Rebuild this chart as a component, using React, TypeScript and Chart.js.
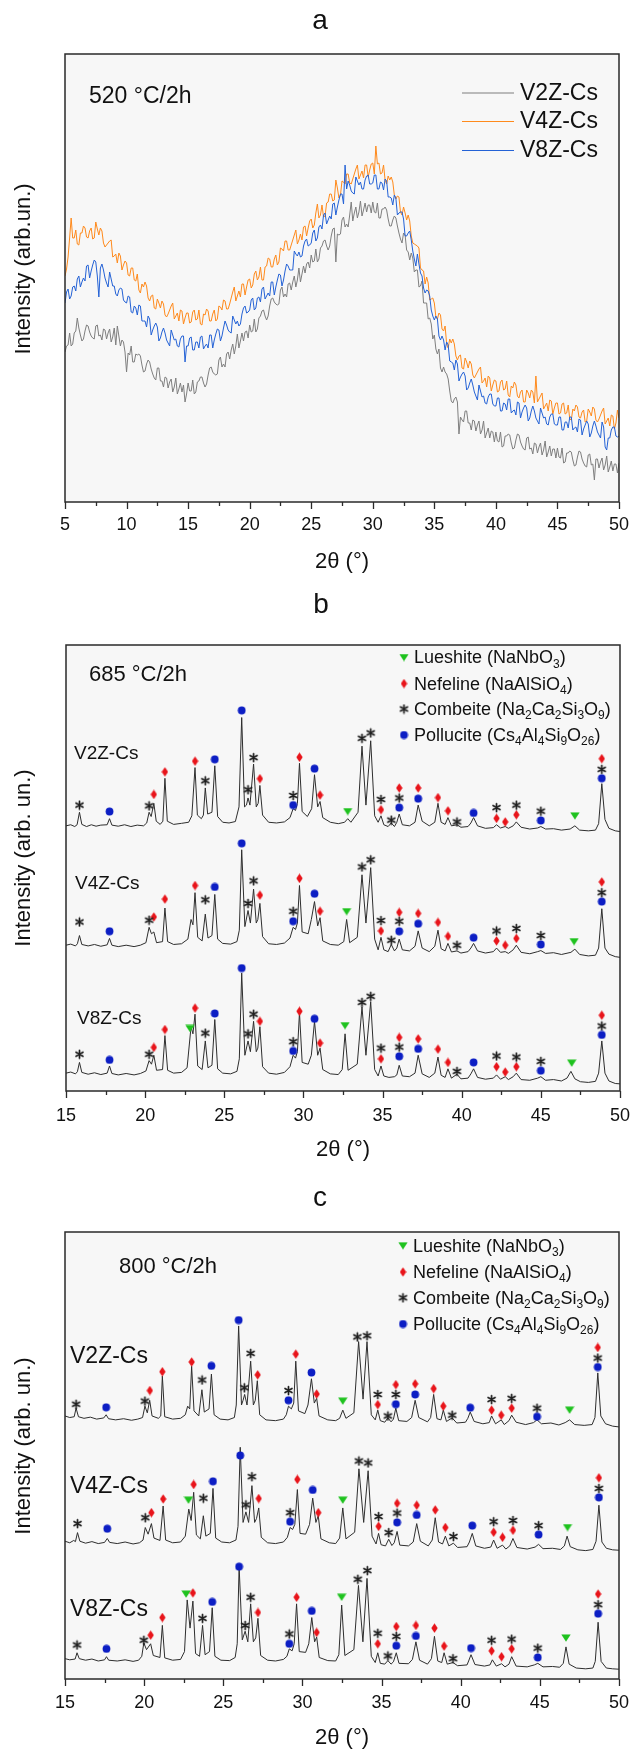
import React, { useEffect, useRef } from 'react';
import { Chart, registerables } from 'chart.js';

Chart.register(...registerables);

const FONT = '"Liberation Sans", Arial, Helvetica, sans-serif';
const INK = '#111111';

// ---------- Panel a: amorphous patterns, 520 °C/2h (sampled every 0.125° from 5° to 50°) ----------
const A_START = 5;
const A_STEP = 0.125;
const a_V2Z = [
  150,156,157,169,156,158,169,171,184,174,167,161,163,171,177,176,170,166,164,163,
  176,177,166,167,162,173,172,163,169,173,160,165,174,157,176,166,156,162,160,150,
  130,149,147,156,140,140,148,147,148,146,137,130,131,138,142,140,133,128,124,122,
  134,134,121,121,115,125,124,114,120,123,110,115,124,108,113,119,110,117,100,108,
  119,111,111,122,108,110,120,121,125,125,119,115,118,127,134,135,130,128,127,128,
  142,145,135,138,135,148,150,143,152,158,148,156,168,154,161,169,161,170,171,164,
  177,170,171,183,170,173,184,186,191,192,186,182,186,196,203,204,200,198,197,198,
  212,215,205,208,205,218,219,212,220,226,215,222,234,220,228,236,229,238,240,234,
  247,240,241,253,240,243,254,256,261,262,256,252,256,266,273,274,240,268,267,268,
  282,285,275,278,275,287,300,281,289,295,284,290,301,286,292,299,290,297,297,289,
  300,290,289,299,284,284,293,293,295,292,283,276,276,282,286,284,276,269,263,259,
  269,267,252,250,242,249,244,230,232,232,215,216,221,199,199,199,183,184,178,163,
  167,153,148,153,134,130,135,130,128,123,111,101,99,103,105,100,68,85,82,80,
  91,91,79,79,72,82,81,71,77,81,68,72,81,64,69,74,64,71,70,60,
  70,61,60,70,55,56,66,66,68,67,59,53,54,62,68,67,60,56,53,52,
  64,65,53,54,48,59,58,49,55,59,47,52,61,45,50,56,46,53,53,44,
  54,45,44,54,39,40,49,49,51,50,42,36,37,45,51,50,43,39,36,35,
  47,48,37,38,22,43,43,34,40,44,32,37,46,30,35,41,31,38,38,29,
  39,
];
const a_V4Z = [
  226,233,245,264,284,264,264,272,258,257,269,269,276,274,265,264,271,274,263,264,
  280,273,267,274,271,259,255,257,259,261,262,245,246,248,239,249,246,232,237,241,
  239,227,226,234,234,222,221,228,212,209,218,215,220,216,204,201,206,207,194,193,
  203,199,194,201,198,187,185,188,192,196,199,183,186,189,181,192,191,178,184,189,
  189,179,180,190,192,182,183,192,178,177,188,187,193,191,181,181,188,192,181,183,
  196,195,192,202,201,193,193,198,204,210,215,201,206,211,205,218,218,207,215,222,
  223,214,217,228,231,222,225,235,222,222,235,236,244,243,235,235,243,247,237,240,
  254,253,251,261,261,252,252,257,262,267,272,258,262,268,262,275,276,266,274,281,
  283,274,277,289,298,284,287,297,285,286,299,300,308,308,301,302,322,314,304,307,
  321,320,318,328,328,319,318,323,328,333,337,323,327,331,324,337,337,325,332,338,
  339,328,356,338,339,328,329,337,322,318,326,322,325,320,307,303,306,305,290,287,
  295,289,282,287,281,266,259,258,257,256,254,234,232,231,218,225,219,202,203,204,
  199,185,183,189,187,173,171,176,158,154,163,159,163,158,146,142,146,147,134,133,
  144,140,134,141,138,127,124,127,130,133,135,119,121,124,115,126,124,111,117,122,
  121,110,111,120,122,112,113,121,107,105,116,114,120,117,106,104,110,112,100,100,
  112,109,104,112,110,99,126,100,103,106,109,93,96,99,91,102,101,88,94,99,
  99,88,89,98,99,88,89,97,83,82,93,91,97,95,85,84,90,92,80,81,
  93,90,86,95,93,82,80,83,87,91,94,78,81,84,76,87,86,73,79,92,
  84,
];
const a_V8Z = [
  199,210,213,203,206,215,216,211,223,226,215,220,224,221,236,237,224,231,237,242,
  240,226,205,234,238,232,224,219,215,230,223,216,216,208,206,212,214,213,202,200,
  199,206,205,190,189,196,194,187,197,196,181,181,181,175,186,183,167,172,176,179,
  175,161,164,170,174,169,162,159,156,172,167,162,163,156,155,163,166,166,140,156,
  156,164,165,152,152,160,160,154,165,166,153,156,158,154,167,167,154,162,168,173,
  172,161,166,174,181,177,172,170,169,186,182,178,181,176,178,188,194,196,189,190,
  192,202,204,192,194,204,205,200,213,215,203,206,209,206,220,220,207,215,222,228,
  227,216,222,231,238,236,232,232,232,251,248,246,250,245,246,256,261,263,256,257,
  259,269,272,261,264,275,277,273,287,289,278,282,286,283,298,299,287,295,302,308,
  308,298,337,313,321,317,311,309,308,325,321,317,320,313,313,322,326,327,318,318,
  319,327,327,313,313,320,319,312,323,321,305,305,304,297,307,304,287,289,290,290,
  283,266,266,269,271,262,251,243,236,248,238,229,226,214,209,212,211,206,192,186,
  182,186,183,166,162,166,162,152,160,157,141,140,139,132,142,138,121,125,128,130,
  126,112,114,119,123,117,110,106,102,117,111,105,106,99,98,105,108,108,98,96,
  96,104,104,91,91,99,98,92,103,103,89,91,92,87,100,99,84,90,94,97,
  94,81,84,91,96,91,84,81,78,94,89,84,85,78,77,85,88,88,78,77,
  77,85,85,72,72,80,80,74,85,85,72,74,75,70,83,82,67,73,77,81,
  78,65,69,76,81,76,70,67,64,80,75,55,52,64,64,72,75,75,66,65,
  66,
];
const A_TICKS = { min: 5, max: 50 };

// ---------- Panel b: crystalline patterns, 685 °C/2h ([2θ, intensity]) ----------
const b_V2Z = [
  [15,742],[15.3,745],[15.55,740],[15.7,745],[15.85,780],[16.0,746],[16.3,740],[16.6,745],[16.9,741],[17.2,744],[17.6,745],[17.75,762],[17.9,744],[18.3,741],[18.7,745],[19.1,740],[19.5,744],[19.9,742],[20.1,750],[20.25,780],[20.38,768],[20.55,805],[20.7,755],[20.95,746],[21.12,755],[21.25,875],[21.4,755],[21.8,746],[22.3,749],[22.75,752],[22.95,770],[23.15,905],[23.3,772],[23.55,762],[23.68,772],[23.8,848],[23.95,775],[24.22,780],[24.4,910],[24.58,768],[24.9,752],[25.3,750],[25.7,754],[25.93,795],[26.1,1045],[26.28,795],[26.4,800],[26.5,820],[26.62,800],[26.85,915],[27.02,795],[27.14,805],[27.25,855],[27.42,772],[27.8,752],[28.3,750],[28.8,753],[29.15,765],[29.35,790],[29.5,785],[29.62,805],[29.75,917],[29.92,782],[30.25,768],[30.52,790],[30.7,885],[30.9,795],[31.05,810],[31.22,765],[31.7,752],[32.2,748],[32.6,752],[32.8,762],[33.0,752],[33.45,780],[33.7,965],[33.95,800],[34.25,980],[34.5,770],[34.72,752],[34.9,770],[35.08,745],[35.35,740],[35.55,750],[35.75,740],[35.9,752],[36.05,775],[36.25,745],[36.7,742],[37.05,752],[37.25,800],[37.5,755],[37.95,742],[38.3,752],[38.5,805],[38.7,752],[38.95,746],[39.13,765],[39.35,742],[39.7,745],[39.95,738],[40.4,740],[40.58,750],[40.75,765],[41.0,742],[41.5,735],[42.0,737],[42.2,745],[42.45,736],[42.75,740],[42.95,735],[43.25,742],[43.45,753],[43.75,738],[44.3,733],[44.8,736],[45.0,740],[45.3,733],[45.8,734],[46.3,730],[46.85,733],[47.15,742],[47.45,730],[48.0,728],[48.45,730],[48.65,748],[48.85,860],[49.05,760],[49.3,735],[49.7,728],[50,726],
];
const b_V4Z = [
  [15,408],[15.3,411],[15.6,406],[15.72,412],[15.85,435],[16.0,410],[16.4,406],[16.8,410],[17.2,405],[17.6,409],[17.75,427],[17.9,408],[18.3,404],[18.8,408],[19.3,404],[19.7,408],[20.05,415],[20.25,458],[20.4,440],[20.55,445],[20.72,415],[21.1,418],[21.25,512],[21.42,418],[21.8,410],[22.3,412],[22.7,425],[22.9,480],[23.02,465],[23.15,555],[23.32,430],[23.6,420],[23.8,495],[23.97,428],[24.22,435],[24.4,550],[24.58,425],[24.9,413],[25.4,411],[25.8,418],[25.95,450],[26.1,675],[26.3,460],[26.5,505],[26.65,470],[26.85,565],[27.02,470],[27.12,480],[27.25,525],[27.42,432],[27.8,412],[28.3,410],[28.8,414],[29.15,428],[29.35,458],[29.5,452],[29.62,470],[29.75,575],[29.92,445],[30.3,440],[30.5,480],[30.7,530],[30.9,462],[31.05,485],[31.22,420],[31.7,410],[32.2,408],[32.55,418],[32.73,480],[32.92,415],[33.4,430],[33.7,605],[33.95,470],[34.25,625],[34.5,425],[34.72,395],[34.9,430],[35.08,395],[35.35,390],[35.55,410],[35.75,392],[35.9,400],[36.05,425],[36.25,395],[36.7,392],[37.05,405],[37.25,448],[37.5,400],[37.95,390],[38.3,405],[38.5,450],[38.7,398],[38.95,392],[39.13,413],[39.35,389],[39.7,392],[39.95,386],[40.4,390],[40.58,400],[40.75,413],[41.0,392],[41.5,386],[42.0,390],[42.2,400],[42.45,388],[42.75,390],[42.95,385],[43.25,395],[43.45,408],[43.75,388],[44.3,384],[44.8,390],[45.0,393],[45.3,385],[45.8,387],[46.3,382],[46.9,388],[47.15,397],[47.45,382],[48.0,378],[48.45,380],[48.65,400],[48.85,510],[49.05,400],[49.3,383],[49.7,376],[50,374],
];
const b_V8Z = [
  [15,50],[15.3,53],[15.6,48],[15.72,54],[15.85,80],[16.0,52],[16.4,47],[16.8,51],[17.2,46],[17.6,50],[17.75,70],[17.9,49],[18.3,45],[18.8,49],[19.3,45],[19.7,49],[20.05,56],[20.25,85],[20.4,75],[20.55,100],[20.72,58],[21.1,60],[21.25,155],[21.42,58],[21.8,50],[22.3,52],[22.65,65],[22.9,180],[23.02,160],[23.15,215],[23.32,70],[23.6,60],[23.8,140],[23.97,65],[24.22,72],[24.4,200],[24.58,62],[24.9,50],[25.4,48],[25.8,55],[25.95,90],[26.1,330],[26.3,100],[26.5,140],[26.65,110],[26.85,195],[27.02,110],[27.12,120],[27.25,180],[27.42,68],[27.8,50],[28.3,47],[28.8,52],[29.15,68],[29.35,100],[29.5,92],[29.62,110],[29.75,220],[29.92,80],[30.3,75],[30.5,100],[30.7,195],[30.9,100],[31.05,120],[31.22,60],[31.7,48],[32.2,46],[32.45,60],[32.63,160],[32.82,58],[33.4,75],[33.7,235],[33.95,100],[34.25,250],[34.5,60],[34.72,42],[34.9,70],[35.08,42],[35.4,38],[35.75,40],[35.9,45],[36.05,72],[36.25,42],[36.7,40],[37.05,50],[37.25,100],[37.5,48],[37.95,38],[38.3,50],[38.5,95],[38.7,44],[38.95,38],[39.13,62],[39.35,36],[39.7,47],[39.95,34],[40.4,36],[40.58,48],[40.75,62],[41.0,38],[41.5,33],[42.0,36],[42.2,45],[42.45,33],[42.75,40],[42.95,32],[43.25,40],[43.45,50],[43.75,32],[44.3,30],[44.8,36],[45.0,40],[45.3,30],[45.8,32],[46.3,28],[46.65,36],[46.9,55],[47.15,34],[47.5,26],[48.0,24],[48.45,27],[48.65,50],[48.85,140],[49.05,50],[49.3,28],[49.7,21],[50,20],
];
// phase markers for panel b
const b_lueshite = [[32.8,782],[47.15,770],[32.73,502],[47.1,418],[22.83,175],[32.63,183],[46.95,78]];
const b_nefeline = [
  [20.55,830],[21.25,893],[23.15,923],[27.25,874],[29.75,934],[31.05,828],[34.9,787],[36.05,848],[37.25,848],[38.5,821],[39.13,784],[42.2,763],[42.75,753],[43.45,773],[48.85,930],
  [20.55,487],[21.25,537],[23.15,575],[27.25,548],[29.75,595],[31.05,503],[34.9,448],[36.05,500],[37.25,497],[38.5,472],[39.13,433],[42.2,420],[42.75,408],[43.45,427],[48.85,585],
  [20.55,122],[21.25,172],[23.15,232],[27.25,195],[29.75,223],[31.05,134],[34.9,90],[36.05,150],[37.25,146],[38.5,117],[39.13,80],[42.2,68],[42.75,53],[43.45,68],[48.85,212],
];
const b_combeite = [
  [15.85,800],[20.25,798],[23.8,868],[26.5,843],[26.85,933],[29.35,827],[33.7,987],[34.25,1002],[34.9,816],[35.55,758],[36.05,820],[39.7,753],[42.2,793],[43.45,800],[45.0,783],[48.85,900],
  [15.85,473],[20.25,478],[23.8,535],[26.5,525],[26.85,588],[29.35,503],[33.7,627],[34.25,647],[34.9,477],[35.55,422],[36.05,475],[39.7,408],[42.2,448],[43.45,455],[45.0,435],[48.85,555],
  [15.85,103],[20.25,103],[23.8,162],[26.5,160],[26.85,215],[29.35,138],[33.7,248],[34.25,265],[34.9,120],[36.05,123],[39.7,55],[42.2,98],[43.45,95],[45.0,83],[48.85,182],
];
const b_pollucite = [
  [17.75,782],[24.4,928],[26.1,1065],[29.35,800],[30.7,902],[36.05,793],[37.25,818],[40.75,778],[45.0,757],[48.85,875],
  [17.75,447],[24.4,571],[26.1,693],[29.35,475],[30.7,552],[36.05,447],[37.25,468],[40.75,429],[45.0,410],[48.85,530],
  [17.75,87],[24.4,217],[26.1,344],[29.35,112],[30.7,202],[36.05,97],[37.25,118],[40.75,80],[45.0,57],[48.85,157],
];

// ---------- Panel c: crystalline patterns, 800 °C/2h ----------
const c_V2Z = [
  [15,672],[15.3,668],[15.58,670],[15.7,692],[15.85,670],[16.2,666],[16.6,669],[17.0,664],[17.45,667],[17.6,675],[17.75,665],[18.2,662],[18.7,665],[19.2,661],[19.6,664],[19.9,668],[20.05,697],[20.2,680],[20.35,712],[20.5,672],[20.9,666],[21.05,672],[21.15,774],[21.3,670],[21.8,664],[22.3,666],[22.6,675],[22.75,697],[22.88,690],[23.0,799],[23.15,685],[23.45,672],[23.65,739],[23.8,682],[24.1,690],[24.25,779],[24.42,675],[24.8,664],[25.3,662],[25.7,668],[25.82,700],[25.97,902],[26.15,700],[26.25,712],[26.35,727],[26.5,700],[26.73,812],[26.9,700],[27.02,712],[27.15,762],[27.3,675],[27.7,662],[28.3,660],[28.8,664],[28.98,675],[29.12,697],[29.3,690],[29.45,705],[29.58,812],[29.75,685],[30.15,678],[30.35,700],[30.57,767],[30.75,705],[30.9,717],[31.05,672],[31.6,662],[32.1,660],[32.35,666],[32.55,687],[32.75,666],[33.25,680],[33.55,862],[33.83,715],[34.08,862],[34.35,675],[34.6,662],[34.76,687],[34.92,660],[35.2,656],[35.4,667],[35.6,657],[35.75,664],[35.9,692],[36.08,660],[36.6,658],[36.9,668],[37.12,712],[37.35,668],[37.9,657],[38.1,668],[38.29,727],[38.5,665],[38.75,662],[38.9,687],[39.1,658],[39.46,667],[39.75,654],[40.3,656],[40.45,666],[40.6,682],[40.85,658],[41.4,652],[41.8,655],[41.95,672],[42.2,652],[42.56,662],[42.75,650],[43.05,660],[43.22,674],[43.5,656],[44.1,650],[44.6,655],[44.82,662],[45.1,652],[45.7,654],[46.2,649],[46.6,655],[46.88,662],[47.2,650],[47.8,648],[48.3,650],[48.48,668],[48.66,782],[48.85,672],[49.15,652],[49.6,646],[50,644],
];
const c_V4Z = [
  [15,352],[15.3,348],[15.55,354],[15.66,351],[15.79,374],[15.94,352],[16.3,347],[16.7,351],[17.1,346],[17.5,349],[17.67,359],[17.82,349],[18.3,346],[18.8,350],[19.3,345],[19.7,348],[19.93,355],[20.07,387],[20.25,370],[20.46,397],[20.62,360],[21.0,354],[21.2,442],[21.36,355],[21.8,348],[22.3,350],[22.6,365],[22.82,434],[22.97,405],[23.13,477],[23.3,368],[23.55,358],[23.74,417],[23.9,365],[24.18,372],[24.35,487],[24.52,360],[24.9,350],[25.4,348],[25.8,355],[25.93,390],[26.07,592],[26.25,400],[26.43,427],[26.6,400],[26.81,494],[26.98,400],[27.1,410],[27.24,437],[27.4,362],[27.8,348],[28.3,346],[28.8,350],[29.05,362],[29.22,387],[29.38,382],[29.52,395],[29.68,484],[29.85,372],[30.2,370],[30.45,395],[30.65,462],[30.85,400],[31.0,417],[31.17,358],[31.7,348],[32.1,346],[32.35,360],[32.55,437],[32.75,358],[33.3,375],[33.57,537],[33.87,400],[34.15,532],[34.4,365],[34.65,345],[34.81,372],[34.97,343],[35.25,340],[35.45,357],[35.65,341],[35.8,348],[35.98,377],[36.15,342],[36.7,340],[37.0,350],[37.22,397],[37.45,352],[37.95,340],[38.2,355],[38.39,412],[38.6,350],[38.85,345],[39.03,365],[39.25,340],[39.54,347],[39.8,336],[40.4,338],[40.55,350],[40.73,372],[40.95,340],[41.5,334],[41.9,337],[42.08,355],[42.3,334],[42.64,342],[42.85,332],[43.1,340],[43.3,359],[43.55,336],[44.2,332],[44.7,337],[44.92,344],[45.2,333],[45.8,334],[46.3,331],[46.55,340],[46.72,365],[46.92,338],[47.4,330],[47.9,328],[48.35,331],[48.55,352],[48.73,444],[48.92,350],[49.2,334],[49.6,330],[50,329],
];
const c_V8Z = [
  [15,52],[15.3,49],[15.64,51],[15.76,67],[15.9,52],[16.3,48],[16.7,51],[17.1,46],[17.5,49],[17.62,57],[17.76,48],[18.3,46],[18.8,49],[19.3,45],[19.65,48],[19.85,58],[19.98,92],[20.15,75],[20.41,90],[20.58,60],[21.0,55],[21.15,137],[21.3,54],[21.8,48],[22.3,50],[22.55,70],[22.72,202],[22.9,130],[23.08,199],[23.25,65],[23.5,58],[23.69,137],[23.85,62],[24.13,70],[24.3,182],[24.47,58],[24.85,48],[25.4,47],[25.75,55],[25.88,90],[26.0,287],[26.2,100],[26.38,122],[26.55,95],[26.73,192],[26.9,95],[27.05,105],[27.19,155],[27.36,60],[27.8,48],[28.3,46],[28.8,50],[29.02,58],[29.17,77],[29.35,72],[29.48,90],[29.63,192],[29.8,70],[30.2,68],[30.4,90],[30.59,157],[30.77,95],[30.9,107],[31.06,55],[31.6,47],[32.1,46],[32.3,62],[32.48,189],[32.68,60],[33.25,75],[33.54,239],[33.82,95],[34.08,257],[34.35,58],[34.6,42],[34.76,67],[34.92,40],[35.2,38],[35.4,47],[35.6,38],[35.75,44],[35.93,67],[36.1,40],[36.7,39],[36.95,50],[37.17,95],[37.4,48],[37.9,38],[38.15,52],[38.34,109],[38.55,46],[38.8,42],[38.95,67],[39.15,38],[39.51,42],[39.8,34],[40.4,36],[40.5,46],[40.65,62],[40.9,37],[41.5,33],[41.85,36],[42.0,49],[42.25,33],[42.58,39],[42.8,31],[43.05,38],[43.22,57],[43.5,33],[44.2,31],[44.65,36],[44.87,40],[45.2,31],[45.8,32],[46.25,30],[46.48,40],[46.65,82],[46.85,38],[47.3,28],[47.9,26],[48.35,28],[48.5,45],[48.68,145],[48.87,45],[49.2,28],[49.6,26],[50,25],
];
// phase markers for panel c
const c_lueshite = [[32.55,710],[46.88,687],[22.8,457],[32.55,457],[46.75,387],[22.65,217],[32.48,209],[46.65,105]];
const c_nefeline = [
  [20.36,737],[21.15,785],[23.0,810],[27.17,777],[29.58,830],[30.9,728],[34.76,701],[35.9,752],[37.12,754],[38.29,742],[38.9,697],[41.95,687],[42.56,674],[43.22,692],[48.66,847],
  [20.46,425],[21.2,460],[23.13,497],[27.24,461],[29.68,510],[31.0,425],[34.81,390],[35.98,449],[37.22,444],[38.39,432],[39.03,387],[42.08,375],[42.64,362],[43.3,380],[48.73,514],
  [20.41,112],[21.15,157],[23.08,220],[27.19,170],[29.63,209],[30.9,119],[34.76,90],[35.93,134],[37.17,137],[38.34,130],[38.95,84],[41.95,72],[42.58,57],[43.22,77],[48.68,217],
];
const c_combeite = [
  [15.7,702],[20.05,710],[23.66,764],[26.33,744],[26.73,832],[29.12,737],[33.47,874],[34.08,877],[34.76,727],[35.4,672],[35.9,727],[39.46,674],[41.95,714],[43.22,717],[44.82,692],[48.66,820],
  [15.79,397],[20.07,412],[23.74,462],[26.43,445],[26.81,517],[29.22,425],[33.57,557],[34.15,552],[34.81,415],[35.45,374],[35.98,424],[39.54,364],[42.08,402],[43.3,405],[44.92,392],[48.73,487],
  [15.76,87],[19.98,99],[23.69,155],[26.38,137],[26.73,209],[29.17,115],[33.5,255],[34.1,277],[34.76,117],[35.4,59],[35.93,109],[39.51,52],[41.95,99],[43.22,102],[44.87,79],[48.68,190],
];
const c_pollucite = [
  [17.6,694],[24.25,800],[25.97,917],[29.12,712],[30.57,783],[35.9,702],[37.12,727],[40.6,693],[44.82,670],[48.66,797],
  [17.67,384],[24.35,505],[26.07,571],[29.22,402],[30.65,483],[35.98,400],[37.22,419],[40.73,392],[44.92,369],[48.73,464],
  [17.62,77],[24.3,197],[26.0,287],[29.17,90],[30.59,174],[35.93,85],[37.17,110],[40.65,79],[44.87,55],[48.68,167],
];

const SAMPLES = ['V2Z-Cs', 'V4Z-Cs', 'V8Z-Cs'];
const A_COLORS = ['#7f7f7f', '#ff8a1c', '#2462d6'];
const PHASES = [
  { key: 'lueshite', text: 'Lueshite (NaNbO_3)' },
  { key: 'nefeline', text: 'Nefeline (NaAlSiO_4)' },
  { key: 'combeite', text: 'Combeite (Na_2Ca_2Si_3O_9)' },
  { key: 'pollucite', text: 'Pollucite (Cs_4Al_4Si_9O_26)' },
];

// ---------- marker glyphs ----------
function makeGlyph(kind: string): HTMLCanvasElement {
  const c = document.createElement('canvas');
  if (kind === 'lueshite') {
    c.width = 10; c.height = 8;
    const g = c.getContext('2d')!;
    g.fillStyle = '#1ec21e';
    g.beginPath(); g.moveTo(0.3, 0.5); g.lineTo(9.7, 0.5); g.lineTo(5, 7.8); g.closePath(); g.fill();
  } else if (kind === 'nefeline') {
    c.width = 7; c.height = 10;
    const g = c.getContext('2d')!;
    g.fillStyle = '#e8141a';
    g.beginPath(); g.moveTo(3.5, 0.3); g.lineTo(6.7, 5); g.lineTo(3.5, 9.7); g.lineTo(0.3, 5); g.closePath(); g.fill();
  } else if (kind === 'combeite') {
    c.width = 11; c.height = 11;
    const g = c.getContext('2d')!;
    g.strokeStyle = '#1c1c1c'; g.lineWidth = 1.7; g.lineCap = 'round';
    g.beginPath();
    for (const deg of [90, 30, 150]) {
      const r = (deg * Math.PI) / 180;
      const dx = Math.cos(r) * 4, dy = Math.sin(r) * 4;
      g.moveTo(5.5 - dx, 5.5 - dy); g.lineTo(5.5 + dx, 5.5 + dy);
    }
    g.stroke();
  } else {
    c.width = 9; c.height = 9;
    const g = c.getContext('2d')!;
    g.fillStyle = '#0c1ec4';
    g.beginPath(); g.arc(4.5, 4.5, 3.9, 0, Math.PI * 2); g.fill();
  }
  return c;
}

function drawRich(ctx: CanvasRenderingContext2D, text: string, x: number, y: number, size: number) {
  const parts = text.split(/(_\d+)/);
  let cx = x;
  ctx.textAlign = 'left';
  ctx.textBaseline = 'middle';
  for (const p of parts) {
    if (!p) continue;
    if (p.startsWith('_')) {
      const s = p.slice(1);
      ctx.font = `${Math.round(size * 0.66)}px ${FONT}`;
      ctx.fillText(s, cx, y + size * 0.32);
      cx += ctx.measureText(s).width;
    } else {
      ctx.font = `${size}px ${FONT}`;
      ctx.fillText(p, cx, y);
      cx += ctx.measureText(p).width;
    }
  }
}

type Deco = {
  letter: string; letterY: number;
  note: string; noteX: number; noteY: number; noteSize: number;
  xTitleY: number; yTitle: string; yTitleY: number;
  lineLegend?: { x0: number; x1: number; tx: number; ys: number[] };
  phaseLegend?: { mx: number; tx: number; ys: number[]; glyphs: Record<string, HTMLCanvasElement> };
  sampleLabels?: { x: number; y: number }[]; sampleSize?: number;
};

function decoPlugin(d: Deco) {
  return {
    id: 'panelDeco',
    beforeDraw(chart: any) {
      const { ctx, chartArea: a } = chart;
      ctx.save();
      ctx.fillStyle = '#f7f7f7';
      ctx.fillRect(a.left, a.top, a.right - a.left, a.bottom - a.top);
      ctx.restore();
    },
    afterDraw(chart: any) {
      const { ctx, chartArea: a } = chart;
      const xs = chart.scales.x;
      ctx.save();
      // frame
      ctx.strokeStyle = '#2a2a2a';
      ctx.lineWidth = 1.5;
      ctx.strokeRect(a.left, a.top, a.right - a.left, a.bottom - a.top);
      // bottom ticks, major every 5°, minor halfway
      ctx.lineWidth = 1.3;
      ctx.beginPath();
      for (let v = xs.min; v <= xs.max + 1e-6; v += 2.5) {
        const px = Math.round(xs.getPixelForValue(v)) + 0.5;
        const major = Math.abs(v / 5 - Math.round(v / 5)) < 1e-6;
        ctx.moveTo(px, a.bottom);
        ctx.lineTo(px, a.bottom + (major ? 7 : 4));
      }
      ctx.stroke();

      ctx.fillStyle = INK;
      ctx.textBaseline = 'middle';
      // panel letter
      ctx.textAlign = 'center';
      ctx.font = `28px ${FONT}`;
      ctx.fillText(d.letter, (a.left + a.right) / 2 - 22, d.letterY);
      // axis titles
      ctx.font = `22px ${FONT}`;
      ctx.fillText('2θ (°)', (a.left + a.right) / 2, d.xTitleY);
      ctx.save();
      ctx.translate(24, d.yTitleY);
      ctx.rotate(-Math.PI / 2);
      ctx.fillText(d.yTitle, 0, 0);
      ctx.restore();
      // temperature note
      ctx.textAlign = 'left';
      ctx.font = `${d.noteSize}px ${FONT}`;
      ctx.fillText(d.note, d.noteX, d.noteY);

      if (d.lineLegend) {
        const L = d.lineLegend;
        ctx.font = `23px ${FONT}`;
        SAMPLES.forEach((s, i) => {
          ctx.strokeStyle = A_COLORS[i];
          ctx.lineWidth = 1.2;
          ctx.beginPath();
          ctx.moveTo(L.x0, L.ys[i] + 0.5); ctx.lineTo(L.x1, L.ys[i] + 0.5);
          ctx.stroke();
          ctx.fillStyle = INK;
          ctx.fillText(s, L.tx, L.ys[i] + 1);
        });
      }
      if (d.phaseLegend) {
        const P = d.phaseLegend;
        PHASES.forEach((p, i) => {
          const g = P.glyphs[p.key];
          ctx.drawImage(g, P.mx - g.width / 2, P.ys[i] - g.height / 2);
          ctx.fillStyle = INK;
          drawRich(ctx, p.text, P.tx, P.ys[i] + 1, 18);
        });
      }
      if (d.sampleLabels) {
        ctx.fillStyle = INK;
        ctx.textAlign = 'left';
        ctx.font = `${d.sampleSize}px ${FONT}`;
        d.sampleLabels.forEach((l, i) => ctx.fillText(SAMPLES[i], l.x, l.y));
      }
      ctx.restore();
    },
  };
}

function baseOptions(o: { xMin: number; xMax: number; yMax: number; padTop: number; padLeft: number; padRight: number; axisH: number; tickPad: number }) {
  return {
    animation: false,
    responsive: false,
    maintainAspectRatio: false,
    devicePixelRatio: 1,
    events: [],
    layout: { padding: { left: o.padLeft, right: o.padRight, top: o.padTop, bottom: 0 } },
    plugins: { legend: { display: false }, tooltip: { enabled: false }, title: { display: false } },
    elements: { point: { radius: 0 }, line: { tension: 0 } },
    scales: {
      x: {
        type: 'linear',
        min: o.xMin,
        max: o.xMax,
        grid: { display: false, drawTicks: false },
        border: { display: false },
        ticks: { stepSize: 5, autoSkip: false, maxRotation: 0, padding: o.tickPad, color: INK, font: { family: FONT, size: 18 } },
        afterFit: (s: any) => { s.height = o.axisH; s.paddingLeft = 0; s.paddingRight = 0; },
      },
      y: { type: 'linear', display: false, min: 0, max: o.yMax },
    },
  };
}

function patternDatasets(lines: number[][][], marks: Record<string, number[][]>, glyphs: Record<string, HTMLCanvasElement>) {
  const markerSets = ['pollucite', 'combeite', 'nefeline', 'lueshite'].map((k) => ({
    label: k,
    data: marks[k],
    showLine: false,
    pointStyle: glyphs[k],
    pointRadius: 4,
    pointHoverRadius: 4,
    borderWidth: 0,
  }));
  const lineSets = lines.map((d, i) => ({
    label: SAMPLES[i],
    data: d,
    borderColor: '#2e2e2e',
    borderWidth: 1,
    pointRadius: 0,
    fill: false,
  }));
  return [...markerSets, ...lineSets];
}

export default function App() {
  const refA = useRef<HTMLCanvasElement>(null);
  const refB = useRef<HTMLCanvasElement>(null);
  const refC = useRef<HTMLCanvasElement>(null);

  useEffect(() => {
    const glyphs: Record<string, HTMLCanvasElement> = {
      lueshite: makeGlyph('lueshite'),
      nefeline: makeGlyph('nefeline'),
      combeite: makeGlyph('combeite'),
      pollucite: makeGlyph('pollucite'),
    };
    const angle = (i: number) => A_START + i * A_STEP;
    const aSeries = [a_V2Z, a_V4Z, a_V8Z];
    const aSets = aSeries
      .map((s, k) => ({
        label: SAMPLES[k],
        data: s.map((y, i) => ({ x: angle(i), y })),
        borderColor: A_COLORS[k],
        borderWidth: 1,
        pointRadius: 0,
        fill: false,
      }))
      .reverse();

    const chartA = new Chart(refA.current!, {
      type: 'line',
      data: { datasets: aSets as any },
      options: baseOptions({ xMin: A_TICKS.min, xMax: A_TICKS.max, yMax: 448, padTop: 54, padLeft: 65, padRight: 11, axisH: 78, tickPad: 12 }) as any,
      plugins: [decoPlugin({
        letter: 'a', letterY: 21,
        note: '520 °C/2h', noteX: 89, noteY: 97, noteSize: 23,
        xTitleY: 562, yTitle: 'Intensity (arb.un.)', yTitleY: 269,
        lineLegend: { x0: 462, x1: 514, tx: 520, ys: [92.5, 121, 150] },
      })],
    });

    const chartB = new Chart(refB.current!, {
      type: 'line',
      data: {
        datasets: patternDatasets([b_V2Z, b_V4Z, b_V8Z], { lueshite: b_lueshite, nefeline: b_nefeline, combeite: b_combeite, pollucite: b_pollucite }, glyphs) as any,
      },
      options: baseOptions({ xMin: 15, xMax: 50, yMax: 1248, padTop: 65, padLeft: 66, padRight: 10, axisH: 79, tickPad: 14 }) as any,
      plugins: [decoPlugin({
        letter: 'b', letterY: 25,
        note: '685 °C/2h', noteX: 89, noteY: 95, noteSize: 22,
        xTitleY: 570, yTitle: 'Intensity (arb. un.)', yTitleY: 278,
        phaseLegend: { mx: 404, tx: 414, ys: [77.5, 103.6, 129, 155], glyphs },
        sampleLabels: [{ x: 74, y: 174 }, { x: 75, y: 303.5 }, { x: 77, y: 439 }], sampleSize: 19,
      })],
    });

    const chartC = new Chart(refC.current!, {
      type: 'line',
      data: {
        datasets: patternDatasets([c_V2Z, c_V4Z, c_V8Z], { lueshite: c_lueshite, nefeline: c_nefeline, combeite: c_combeite, pollucite: c_pollucite }, glyphs) as any,
      },
      options: baseOptions({ xMin: 15, xMax: 50, yMax: 1142, padTop: 62, padLeft: 65, padRight: 11, axisH: 75, tickPad: 13 }) as any,
      plugins: [decoPlugin({
        letter: 'c', letterY: 28,
        note: '800 °C/2h', noteX: 119, noteY: 97, noteSize: 22,
        xTitleY: 568, yTitle: 'Intensity (arb. un.)', yTitleY: 276,
        phaseLegend: { mx: 403, tx: 413, ys: [75.7, 102, 127.8, 154], glyphs },
        sampleLabels: [{ x: 70, y: 187 }, { x: 70, y: 316.6 }, { x: 70, y: 440 }], sampleSize: 23,
      })],
    });

    return () => {
      chartA.destroy();
      chartB.destroy();
      chartC.destroy();
    };
  }, []);

  return (
    <div style={{ position: 'absolute', left: 0, top: 0, width: 630, height: 1754, background: '#ffffff' }}>
      <canvas ref={refA} width={630} height={580} style={{ display: 'block' }} />
      <canvas ref={refB} width={630} height={590} style={{ display: 'block' }} />
      <canvas ref={refC} width={630} height={584} style={{ display: 'block' }} />
    </div>
  );
}
